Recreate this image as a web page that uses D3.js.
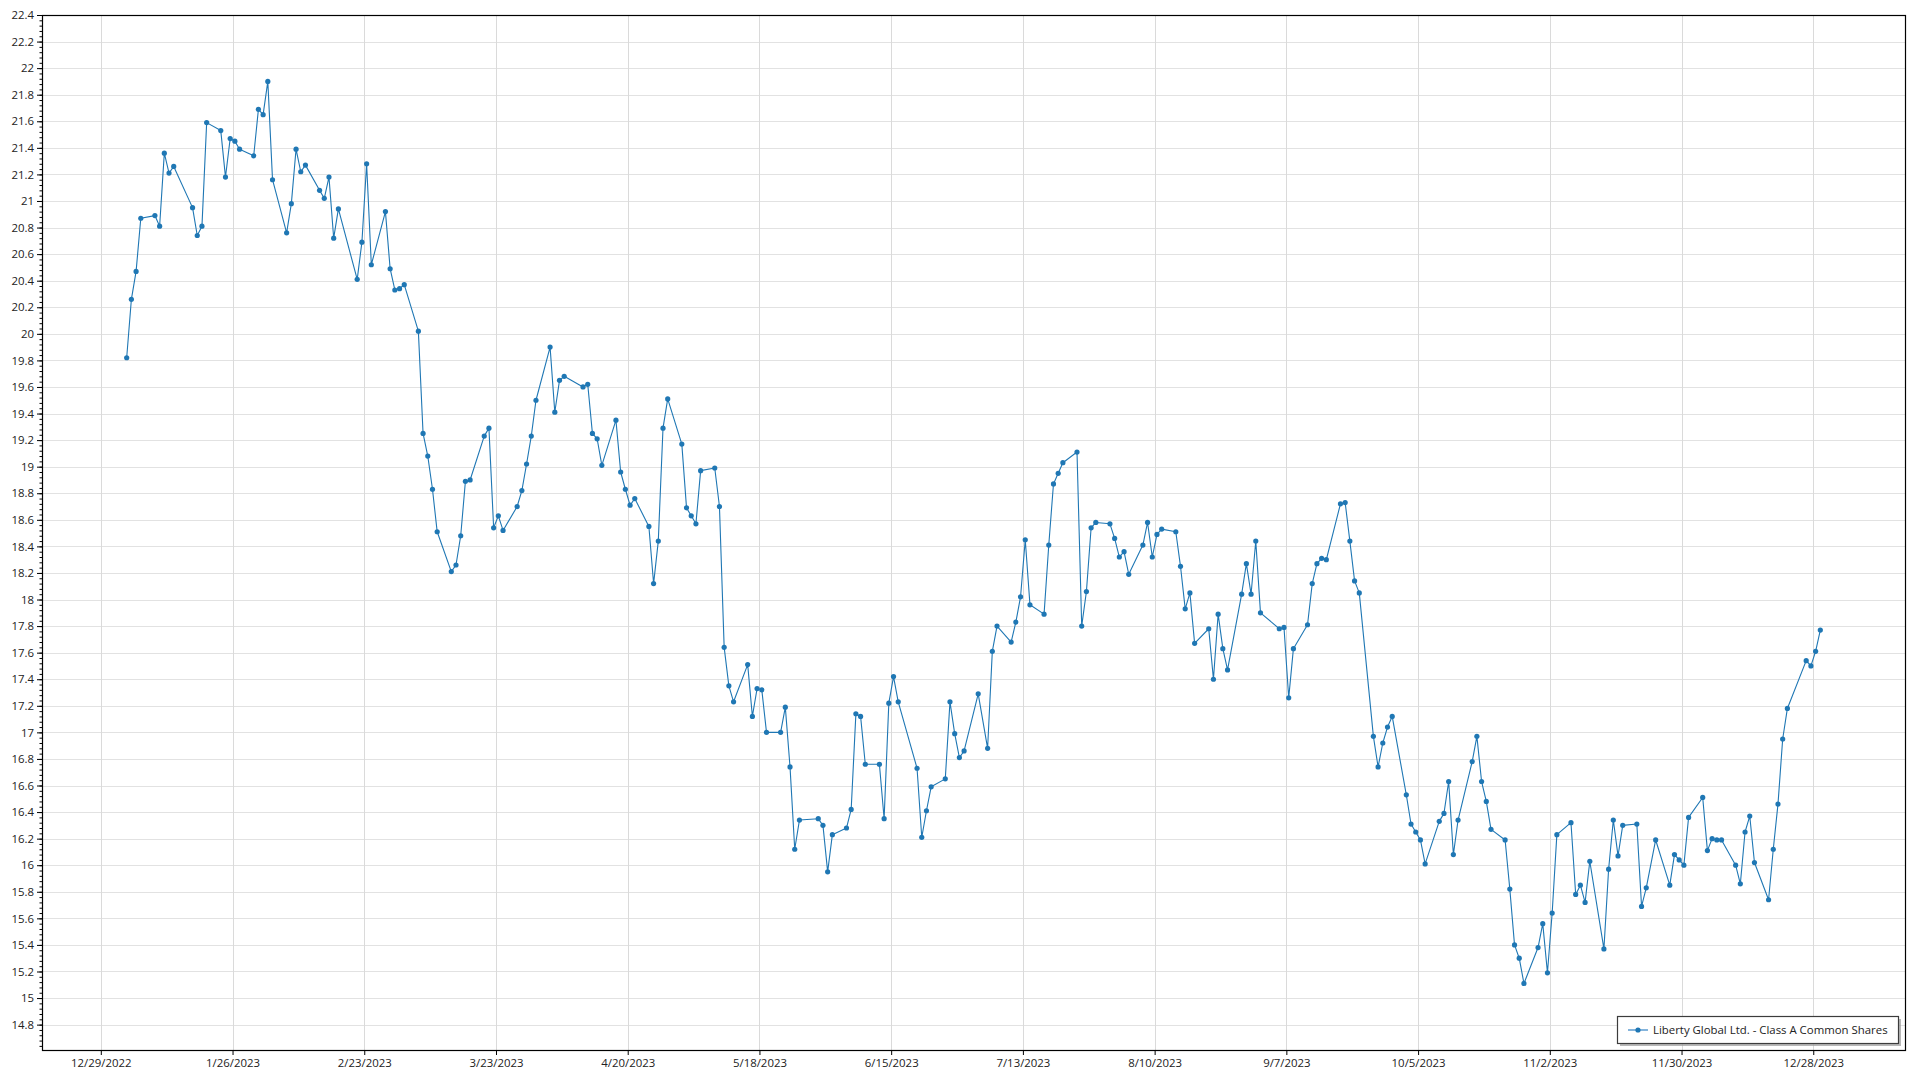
<!DOCTYPE html>
<html>
<head>
<meta charset="utf-8">
<script src="https://cdn.jsdelivr.net/npm/d3@7"></script>
<style>
html,body{margin:0;padding:0;background:#fff;}
svg{display:block;font-family:"Open Sans","Noto Sans",sans-serif;}
</style>
</head>
<body>
<svg id="chart" width="1920" height="1080"></svg>
<script>
const seriesName = "Liberty Global Ltd. - Class A Common Shares";

const dates = [
"2023-01-03","2023-01-04","2023-01-05","2023-01-06","2023-01-09","2023-01-10","2023-01-11","2023-01-12","2023-01-13","2023-01-17","2023-01-18","2023-01-19","2023-01-20","2023-01-23","2023-01-24","2023-01-25","2023-01-26","2023-01-27","2023-01-30","2023-01-31",
"2023-02-01","2023-02-02","2023-02-03","2023-02-06","2023-02-07","2023-02-08","2023-02-09","2023-02-10","2023-02-13","2023-02-14","2023-02-15","2023-02-16","2023-02-17","2023-02-21","2023-02-22","2023-02-23","2023-02-24","2023-02-27","2023-02-28",
"2023-03-01","2023-03-02","2023-03-03","2023-03-06","2023-03-07","2023-03-08","2023-03-09","2023-03-10","2023-03-13","2023-03-14","2023-03-15","2023-03-16","2023-03-17","2023-03-20","2023-03-21","2023-03-22","2023-03-23","2023-03-24","2023-03-27","2023-03-28","2023-03-29","2023-03-30","2023-03-31",
"2023-04-03","2023-04-04","2023-04-05","2023-04-06","2023-04-10","2023-04-11","2023-04-12","2023-04-13","2023-04-14","2023-04-17","2023-04-18","2023-04-19","2023-04-20","2023-04-21","2023-04-24","2023-04-25","2023-04-26","2023-04-27","2023-04-28",
"2023-05-01","2023-05-02","2023-05-03","2023-05-04","2023-05-05","2023-05-08","2023-05-09","2023-05-10","2023-05-11","2023-05-12","2023-05-15","2023-05-16","2023-05-17","2023-05-18","2023-05-19","2023-05-22","2023-05-23","2023-05-24","2023-05-25","2023-05-26","2023-05-30","2023-05-31",
"2023-06-01","2023-06-02","2023-06-05","2023-06-06","2023-06-07","2023-06-08","2023-06-09","2023-06-12","2023-06-13","2023-06-14","2023-06-15","2023-06-16","2023-06-20","2023-06-21","2023-06-22","2023-06-23","2023-06-26","2023-06-27","2023-06-28","2023-06-29","2023-06-30",
"2023-07-03","2023-07-05","2023-07-06","2023-07-07","2023-07-10","2023-07-11","2023-07-12","2023-07-13","2023-07-14","2023-07-17","2023-07-18","2023-07-19","2023-07-20","2023-07-21","2023-07-24","2023-07-25","2023-07-26","2023-07-27","2023-07-28","2023-07-31",
"2023-08-01","2023-08-02","2023-08-03","2023-08-04","2023-08-07","2023-08-08","2023-08-09","2023-08-10","2023-08-11","2023-08-14","2023-08-15","2023-08-16","2023-08-17","2023-08-18","2023-08-21","2023-08-22","2023-08-23","2023-08-24","2023-08-25","2023-08-28","2023-08-29","2023-08-30","2023-08-31",
"2023-09-01","2023-09-05","2023-09-06","2023-09-07","2023-09-08","2023-09-11","2023-09-12","2023-09-13","2023-09-14","2023-09-15","2023-09-18","2023-09-19","2023-09-20","2023-09-21","2023-09-22","2023-09-25","2023-09-26","2023-09-27","2023-09-28","2023-09-29",
"2023-10-02","2023-10-03","2023-10-04","2023-10-05","2023-10-06","2023-10-09","2023-10-10","2023-10-11","2023-10-12","2023-10-13","2023-10-16","2023-10-17","2023-10-18","2023-10-19","2023-10-20","2023-10-23","2023-10-24","2023-10-25","2023-10-26","2023-10-27","2023-10-30","2023-10-31",
"2023-11-01","2023-11-02","2023-11-03","2023-11-06","2023-11-07","2023-11-08","2023-11-09","2023-11-10","2023-11-13","2023-11-14","2023-11-15","2023-11-16","2023-11-17","2023-11-20","2023-11-21","2023-11-22","2023-11-24","2023-11-27","2023-11-28","2023-11-29","2023-11-30",
"2023-12-01","2023-12-04","2023-12-05","2023-12-06","2023-12-07","2023-12-08","2023-12-11","2023-12-12","2023-12-13","2023-12-14","2023-12-15","2023-12-18","2023-12-19","2023-12-20","2023-12-21","2023-12-22","2023-12-26","2023-12-27","2023-12-28","2023-12-29"
];

const prices = [
19.82,20.26,20.47,20.87,20.89,20.81,21.36,21.21,21.26,20.95,20.74,20.81,21.59,21.53,21.18,21.47,21.45,21.39,21.34,21.69,
21.65,21.90,21.16,20.76,20.98,21.39,21.22,21.27,21.08,21.02,21.18,20.72,20.94,20.41,20.69,21.28,20.52,20.92,20.49,
20.33,20.34,20.37,20.02,19.25,19.08,18.83,18.51,18.21,18.26,18.48,18.89,18.90,19.23,19.29,18.54,18.63,18.52,18.70,18.82,19.02,19.23,19.50,
19.90,19.41,19.65,19.68,19.60,19.62,19.25,19.21,19.01,19.35,18.96,18.83,18.71,18.76,18.55,18.12,18.44,19.29,19.51,
19.17,18.69,18.63,18.57,18.97,18.99,18.70,17.64,17.35,17.23,17.51,17.12,17.33,17.32,17.00,17.00,17.19,16.74,16.12,16.34,16.35,16.30,
15.95,16.23,16.28,16.42,17.14,17.12,16.76,16.76,16.35,17.22,17.42,17.23,16.73,16.21,16.41,16.59,16.65,17.23,16.99,16.81,16.86,
17.29,16.88,17.61,17.80,17.68,17.83,18.02,18.45,17.96,17.89,18.41,18.87,18.95,19.03,19.11,17.80,18.06,18.54,18.58,18.57,
18.46,18.32,18.36,18.19,18.41,18.58,18.32,18.49,18.53,18.51,18.25,17.93,18.05,17.67,17.78,17.40,17.89,17.63,17.47,18.04,18.27,18.04,18.44,
17.90,17.78,17.79,17.26,17.63,17.81,18.12,18.27,18.31,18.30,18.72,18.73,18.44,18.14,18.05,16.97,16.74,16.92,17.04,17.12,
16.53,16.31,16.25,16.19,16.01,16.33,16.39,16.63,16.08,16.34,16.78,16.97,16.63,16.48,16.27,16.19,15.82,15.40,15.30,15.11,15.38,15.56,
15.19,15.64,16.23,16.32,15.78,15.85,15.72,16.03,15.37,15.97,16.34,16.07,16.30,16.31,15.69,15.83,16.19,15.85,16.08,16.04,16.00,
16.36,16.51,16.11,16.20,16.19,16.19,16.00,15.86,16.25,16.37,16.02,15.74,16.12,16.46,16.95,17.18,17.54,17.50,17.61,17.77
];

const xTickLabels = ["12/29/2022","1/26/2023","2/23/2023","3/23/2023","4/20/2023","5/18/2023","6/15/2023","7/13/2023","8/10/2023","9/7/2023","10/5/2023","11/2/2023","11/30/2023","12/28/2023"];
const yTickLabels = ["14.8","15","15.2","15.4","15.6","15.8","16","16.2","16.4","16.6","16.8","17","17.2","17.4","17.6","17.8","18","18.2","18.4","18.6","18.8","19","19.2","19.4","19.6","19.8","20","20.2","20.4","20.6","20.8","21","21.2","21.4","21.6","21.8","22","22.2","22.4"];

// ---- layout ----
const plot = {left: 42, right: 1905, top: 15, bottom: 1050};
const lineColor = "#1f77b4";
const gridColor = "#e2e2e2";
const textColor = "#222";
const fontSize = "11.4px";
const fontFamily = '"Open Sans","Noto Sans",sans-serif';

const svg = d3.select("#chart");
const parseDay = d3.timeParse("%Y-%m-%d %H:%M");
const parseTick = d3.timeParse("%m/%d/%Y");
const pts = dates.map((d, i) => ({date: parseDay(d + " 12:00"), value: prices[i]}));
const DAY = 864e5;
const pad = 18 * DAY;

const x = d3.scaleTime()
  .domain([new Date(+pts[0].date - pad), new Date(+pts[pts.length - 1].date + pad)])
  .range([plot.left, plot.right]);
const y = d3.scaleLinear().domain([14.609, 22.4]).range([plot.bottom, plot.top]);

const xTicks = xTickLabels.map(s => parseTick(s));
const yTicks = yTickLabels.map(Number);

// gridlines
const grid = svg.append("g");
grid.selectAll("line.h").data(yTicks).join("line")
  .attr("x1", plot.left).attr("x2", plot.right)
  .attr("y1", d => Math.round(y(d)) + 0.5).attr("y2", d => Math.round(y(d)) + 0.5)
  .attr("stroke", gridColor).attr("stroke-width", 1);
grid.selectAll("line.v").data(xTicks).join("line")
  .attr("y1", plot.top).attr("y2", plot.bottom)
  .attr("x1", d => Math.round(x(d)) + 0.5).attr("x2", d => Math.round(x(d)) + 0.5)
  .attr("stroke", "#dadada").attr("stroke-width", 1);

// y minor ticks
const yMinor = d3.range(14.64, 22.401, 0.04);
const yMinorAxis = d3.axisLeft(y).tickValues(yMinor).tickSize(2.5).tickFormat("");
svg.append("g").attr("transform", `translate(${plot.left},0)`).call(yMinorAxis)
  .call(g => g.select(".domain").remove())
  .call(g => g.selectAll("line").attr("stroke", "#000"));

// y major axis
const yAxis = d3.axisLeft(y).tickValues(yTicks).tickSize(5).tickPadding(3)
  .tickFormat((d, i) => yTickLabels[i]);
svg.append("g").attr("transform", `translate(${plot.left},0)`).call(yAxis)
  .call(g => g.select(".domain").remove())
  .call(g => g.selectAll("line").attr("stroke", "#000"))
  .call(g => g.selectAll("text").attr("fill", textColor)
    .style("font-size", fontSize).style("font-family", fontFamily));

// x axis
const xAxis = d3.axisBottom(x).tickValues(xTicks).tickSize(5).tickPadding(4)
  .tickFormat((d, i) => xTickLabels[i]);
svg.append("g").attr("transform", `translate(0,${plot.bottom})`).call(xAxis)
  .call(g => g.select(".domain").remove())
  .call(g => g.selectAll("line").attr("stroke", "#000"))
  .call(g => g.selectAll("text").attr("fill", textColor)
    .style("font-size", fontSize).style("font-family", fontFamily));

// frame
svg.append("rect")
  .attr("x", plot.left + 0.5).attr("y", plot.top + 0.5)
  .attr("width", plot.right - plot.left).attr("height", plot.bottom - plot.top)
  .attr("fill", "none").attr("stroke", "#000").attr("stroke-width", 1.2);

// series
const line = d3.line().x(d => x(d.date)).y(d => y(d.value));
const series = svg.append("g");
series.append("path").datum(pts)
  .attr("d", line).attr("fill", "none")
  .attr("stroke", lineColor).attr("stroke-width", 1.1).attr("stroke-linejoin", "round");
series.selectAll("circle").data(pts).join("circle")
  .attr("cx", d => x(d.date)).attr("cy", d => y(d.value))
  .attr("r", 2.6).attr("fill", lineColor);

// legend
const lg = svg.append("g");
const lgBox = {x: 1617, y: 1016, w: 281, h: 27};
lg.append("rect").attr("x", lgBox.x + 3).attr("y", lgBox.y + 3)
  .attr("width", lgBox.w).attr("height", lgBox.h).attr("fill", "#9a9a9a").attr("opacity", 0.7);
lg.append("rect").attr("x", lgBox.x + 0.5).attr("y", lgBox.y + 0.5)
  .attr("width", lgBox.w).attr("height", lgBox.h).attr("fill", "#fff")
  .attr("stroke", "#3c3c3c").attr("stroke-width", 1.2);
lg.append("line").attr("x1", lgBox.x + 11).attr("x2", lgBox.x + 31)
  .attr("y1", lgBox.y + 14).attr("y2", lgBox.y + 14)
  .attr("stroke", "#5b9bd0").attr("stroke-width", 1.5);
lg.append("circle").attr("cx", lgBox.x + 21).attr("cy", lgBox.y + 14).attr("r", 2.6).attr("fill", lineColor);
lg.append("text").attr("x", lgBox.x + 36).attr("y", lgBox.y + 18)
  .attr("fill", textColor).style("font-size", fontSize).style("font-family", fontFamily).text(seriesName);
</script>
</body>
</html>
